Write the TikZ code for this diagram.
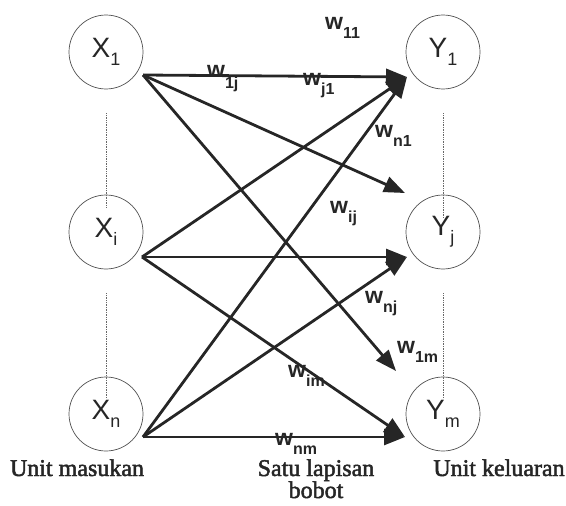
\documentclass[tikz,border=0pt]{standalone}
\usepackage{fontspec}
\setmainfont{Liberation Serif}
\setsansfont{Liberation Sans}
\newfontfamily\capfont[FakeBold=2]{Liberation Serif}
\usetikzlibrary{arrows.meta,calc}

% lowered index for weight labels, e.g. w\lowidx{11}
\newcommand\lowidx[2][9pt]{\raisebox{-#1}{\fontsize{16}{16}\selectfont #2}}
% lowered index for unit names, e.g. X\unitidx{1}
\newcommand\unitidx[1]{\raisebox{-8pt}{\fontsize{18}{18}\selectfont #1}}

\definecolor{ink}{HTML}{262626}

\begin{document}
\begin{tikzpicture}[x=1pt,y=-1pt,
  unit/.style={circle, draw=ink!80, line width=0.7pt, minimum size=74pt,
    inner sep=0pt, text=ink, font=\sffamily\fontsize{28}{28}\selectfont},
  link/.style={line width=2.8pt, draw=ink,
    -{Triangle[length=21pt,width=16pt]}},
  wlab/.style={anchor=base west, inner sep=0pt, text=ink,
    font=\sffamily\bfseries\fontsize{23}{23}\selectfont},
  guide/.style={densely dotted, line width=0.7pt, draw=ink!70},
  caption/.style={inner sep=0pt, text=ink, align=center,
    font=\capfont\fontsize{24}{22}\selectfont}]

\useasboundingbox (0,0) rectangle (566,506);

% input units
\node[unit] (X1) at (106,52)  {X\unitidx{1}};
\node[unit] (Xi) at (106,232) {X\unitidx{i}};
\node[unit] (Xn) at (106,414) {X\unitidx{n}};
% output units
\node[unit] (Y1) at (443,52)  {Y\unitidx{1}};
\node[unit] (Yj) at (443,232) {Y\unitidx{j}};
\node[unit] (Ym) at (443,414) {Y\unitidx{m}};

% dotted guides between units of a layer
\draw[guide] ($(X1.south)+(0,24)$) -- ($(Xi.north)+(0,13)$);
\draw[guide] ($(Xi.south)+(0,24)$) -- ($(Xn.north)+(0,22)$);
\draw[guide] ($(Y1.south)+(0,24)$) -- ($(Yj.north)+(0,23)$);
\draw[guide] ($(Yj.south)+(0,24)$) -- ($(Ym.north)+(0,22)$);

% where the weight lines leave and arrive
\coordinate (oX1) at ($(X1.center)+(37,23)$);
\coordinate (oXi) at ($(Xi.center)+(36,25)$);
\coordinate (oXn) at ($(Xn.center)+(37,23)$);
\coordinate (tY1) at ($(Y1.center)+(-36,25)$);
\coordinate (tYj) at ($(Yj.center)+(-36,25)$);
\coordinate (tYm) at ($(Ym.center)+(-38,23)$);
\coordinate (tYjtop) at ($(Yj.center)+(-38,-39)$);
\coordinate (tYmtop) at ($(Ym.center)+(-47,-43)$);

% weights
\draw[link] (oX1) -- (tY1);
\draw[link] (oX1) -- (tYjtop);
\draw[link] (oX1) -- (tYmtop);
\draw[link] (oXi) -- (tY1);
\draw[link] (oXi) -- (tYj);
\draw[link] (oXi) -- (tYm);
\draw[link] (oXn) -- (tY1);
\draw[link] (oXn) -- (tYj);
\draw[link] (oXn) -- (tYm);

% weight labels
\node[wlab] (w11) at (325,30)  {w\lowidx{11}};
\node[wlab] (w1j) at (207,77)  {w\lowidx[11pt]{1j}};
\node[wlab] (wj1) at (303,85)  {w\lowidx{j1}};
\node[wlab] (wn1) at (375,137) {w\lowidx{n1}};
\node[wlab] (wij) at (330,213) {w\lowidx{ij}};
\node[wlab] (wnj) at (365,303) {w\lowidx{nj}};
\node[wlab] (w1m) at (397,353) {w\lowidx{1m}};
\node[wlab] (wim) at (288,377) {w\lowidx{im}};
\node[wlab] (wnm) at (275,445) {w\lowidx{nm}};

% layer captions
\node[caption, anchor=base] (cin)  at (77,476)  {Unit masukan};
\node[caption, anchor=base] (cmid) at (316,498) {Satu lapisan\\bobot};
\node[caption, anchor=base] (cout) at (499,476) {Unit keluaran};
\end{tikzpicture}
\end{document}
